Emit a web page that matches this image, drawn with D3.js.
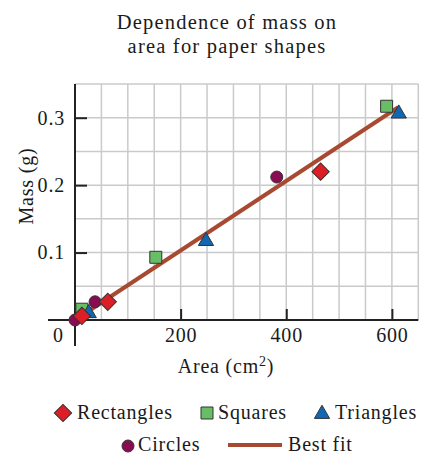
<!DOCTYPE html>
<html>
<head>
<meta charset="utf-8">
<script src="https://cdn.jsdelivr.net/npm/d3@7"></script>
<style>
  html, body { margin: 0; padding: 0; background: #fff; }
  svg text { font-family: "Liberation Serif", "Times New Roman", serif; fill: #1a1a1a; }
</style>
</head>
<body>
<svg id="chart" width="422" height="455"></svg>
<script>
// ---- data ----
const titleLines = ["Dependence of mass on", "area for paper shapes"];
const rectArea = [13, 62, 465];
const rectMass = [0.006, 0.027, 0.22];
const squareArea = [13, 153, 590];
const squareMass = [0.016, 0.093, 0.317];
const triArea = [26, 248, 613];
const triMass = [0.010, 0.117, 0.306];
const circleArea = [0, 38, 382];
const circleMass = [0, 0.027, 0.212];
const fitArea = [0, 612];
const fitMass = [0, 0.3155];
const xTicks = [0, 200, 400, 600];
const yTicks = [0.1, 0.2, 0.3];
const xLabel = "Area (cm";
const yLabel = "Mass (g)";

const colors = { rect: "#dc1f26", square: "#68bd66", tri: "#1267b4", circle: "#870c52", fit: "#a84a32" };

const svg = d3.select("#chart");
const x = d3.scaleLinear().domain([0, 650]).range([75, 418.3]);
const y = d3.scaleLinear().domain([0, 0.35]).range([320, 84]);

// title
svg.append("g").selectAll("text").data(titleLines).join("text")
  .attr("x", 227).attr("y", (d, i) => 29 + i * 24)
  .attr("text-anchor", "middle").style("font-size", "20.5px").style("letter-spacing", "1.2px")
  .text(d => d);

// grid
const grid = svg.append("g").attr("stroke", "#cacaca").attr("stroke-width", 1.5);
grid.selectAll("line.v").data(d3.range(50, 651, 50)).join("line").attr("class", "v")
  .attr("x1", d => x(d)).attr("x2", d => x(d)).attr("y1", y(0)).attr("y2", y(0.35));
grid.selectAll("line.h").data(d3.range(1, 8).map(i => i * 0.05)).join("line").attr("class", "h")
  .attr("x1", x(0)).attr("x2", x(650)).attr("y1", d => y(d)).attr("y2", d => y(d));

// axes
const xAxis = d3.axisBottom(x).tickValues(xTicks).tickSize(-11).tickPadding(8).tickFormat(d3.format("d"));
const gx = svg.append("g").attr("transform", `translate(0,${y(0)})`).call(xAxis);
gx.select(".domain").remove();
gx.selectAll(".tick line").attr("stroke", "#222").attr("stroke-width", 2);
gx.selectAll(".tick text").style("font-size", "20px").style("font-family", "Liberation Serif, serif").attr("fill", "#1a1a1a").style("letter-spacing", "0.8px");
gx.selectAll(".tick").filter(d => d === 0).select("line").remove();
gx.selectAll(".tick").filter(d => d === 0).select("text").attr("x", -17);

const yAxis = d3.axisLeft(y).tickValues(yTicks).tickSize(-12).tickPadding(10).tickFormat(d3.format(".1f"));
const gy = svg.append("g").attr("transform", `translate(${x(0)},0)`).call(yAxis);
gy.select(".domain").remove();
gy.selectAll(".tick line").attr("stroke", "#222").attr("stroke-width", 2);
gy.selectAll(".tick text").style("font-size", "20px").style("font-family", "Liberation Serif, serif").attr("fill", "#1a1a1a").style("letter-spacing", "0.8px");

svg.append("line").attr("x1", 48).attr("x2", x(650)).attr("y1", y(0)).attr("y2", y(0))
  .attr("stroke", "#222").attr("stroke-width", 2);
svg.append("line").attr("x1", x(0)).attr("x2", x(0)).attr("y1", y(0.35)).attr("y2", 346)
  .attr("stroke", "#222").attr("stroke-width", 2);

// axis labels
const xl = svg.append("text").attr("x", 226).attr("y", 373).attr("text-anchor", "middle")
  .style("font-size", "20px").style("letter-spacing", "0.8px");
xl.append("tspan").text(xLabel);
xl.append("tspan").attr("dy", -7).style("font-size", "14px").text("2");
xl.append("tspan").attr("dy", 7).text(")");

svg.append("text").attr("transform", "translate(33,186) rotate(-90)").attr("text-anchor", "middle")
  .style("font-size", "20px").style("letter-spacing", "0.8px").text(yLabel);

// best fit line
const fitData = fitArea.map((a, i) => [a, fitMass[i]]);
svg.append("path").datum(fitData)
  .attr("d", d3.line().x(d => x(d[0])).y(d => y(d[1])))
  .attr("stroke", colors.fit).attr("stroke-width", 4).attr("fill", "none");

// markers
const stroke = "#333";
const sqSym = d3.symbol().type(d3.symbolSquare).size(144);
const triSym = d3.symbol().type(d3.symbolTriangle).size(100);
const circSym = d3.symbol().type(d3.symbolCircle).size(113);
const diaSym = d3.symbol().type(d3.symbolSquare).size(150);

function drawSeries(area, mass, sym, color, rot) {
  svg.append("g").selectAll("path").data(area.map((a, i) => [a, mass[i]])).join("path")
    .attr("d", sym)
    .attr("transform", d => `translate(${x(d[0])},${y(d[1])}) rotate(${rot})`)
    .attr("fill", color).attr("stroke", stroke).attr("stroke-width", 1);
}
drawSeries(squareArea, squareMass, sqSym, colors.square, 0);
drawSeries(triArea, triMass, triSym, colors.tri, 0);
drawSeries(circleArea, circleMass, circSym, colors.circle, 0);
drawSeries(rectArea, rectMass, diaSym, colors.rect, 45);

// legend
const leg = svg.append("g");
function legText(tx, ty, t) {
  leg.append("text").attr("x", tx).attr("y", ty).style("font-size", "20px").style("letter-spacing", "0.8px").text(t);
}
leg.append("path").attr("d", diaSym).attr("transform", "translate(63,413) rotate(45)").attr("fill", colors.rect).attr("stroke", stroke);
legText(77, 419, "Rectangles");
leg.append("path").attr("d", sqSym).attr("transform", "translate(207,413)").attr("fill", colors.square).attr("stroke", stroke);
legText(218, 419, "Squares");
leg.append("path").attr("d", triSym).attr("transform", "translate(322,414)").attr("fill", colors.tri).attr("stroke", stroke);
legText(335, 419, "Triangles");
leg.append("path").attr("d", circSym).attr("transform", "translate(128,446)").attr("fill", colors.circle).attr("stroke", stroke);
legText(138, 451, "Circles");
leg.append("line").attr("x1", 228).attr("x2", 282).attr("y1", 445).attr("y2", 445).attr("stroke", colors.fit).attr("stroke-width", 4);
legText(288, 451, "Best fit");
</script>
</body>
</html>
